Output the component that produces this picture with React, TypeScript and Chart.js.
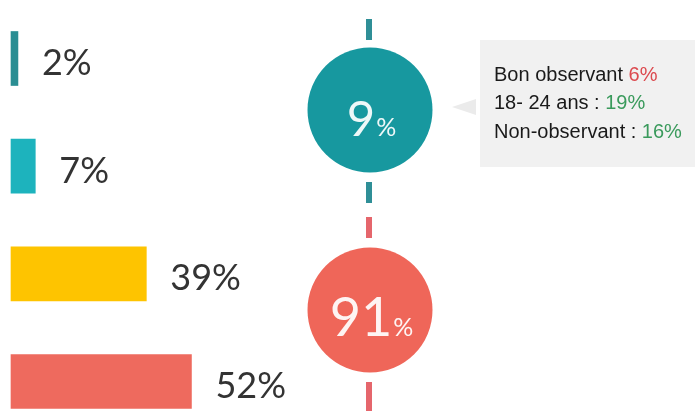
import React, { useEffect, useRef } from "react";
import { Chart, registerables } from "chart.js";

Chart.register(...registerables);

// ---- data ----
const categories = ["Groupe 1", "Groupe 2", "Groupe 3", "Groupe 4"];
const barValues = [2, 7, 39, 52];
const barColors = ["#2a8e93", "#1db3bd", "#fec400", "#ee6a5e"];

const circleValues = [9, 91];
const circleColors = ["#17989f", "#ef6659"];
const dashColors = ["#2f8f97", "#e5666c"];

const noteLabels = ["Bon observant ", "18- 24 ans : ", "Non-observant : "];
const noteValues = ["6%", "19%", "16%"];
const noteValueColors = ["#dc4a4f", "#3a9a5c", "#3a9a5c"];

const decorPlugin = {
  id: "decor",
  beforeDatasetsDraw(chart: any) {
    const ctx = chart.ctx as CanvasRenderingContext2D;
    ctx.save();
    const cx = 369;
    // dashes
    ctx.lineWidth = 6;
    const segs = [
      [0, 19, 40],
      [0, 182, 203],
      [1, 217, 238],
      [1, 382, 411],
    ];
    for (const [c, y1, y2] of segs) {
      ctx.strokeStyle = dashColors[c];
      ctx.beginPath();
      ctx.moveTo(cx, y1);
      ctx.lineTo(cx, y2);
      ctx.stroke();
    }
    // circles
    const centersY = [110, 310];
    const bigSizes = [49, 54];
    circleValues.forEach((v, i) => {
      ctx.fillStyle = circleColors[i];
      ctx.beginPath();
      ctx.arc(370, centersY[i], 62.5, 0, Math.PI * 2);
      ctx.fill();
      const big = String(v);
      ctx.font = `${bigSizes[i]}px Lato, "Open Sans", sans-serif`;
      const wBig = ctx.measureText(big).width;
      ctx.font = `25px Lato, "Open Sans", sans-serif`;
      const wPct = ctx.measureText("%").width;
      const startX = 371 - (wBig + wPct) / 2;
      const baseY = centersY[i] + 26;
      ctx.fillStyle = "rgba(255,255,255,0.93)";
      ctx.textBaseline = "alphabetic";
      ctx.textAlign = "left";
      ctx.font = `${bigSizes[i]}px Lato, "Open Sans", sans-serif`;
      ctx.fillText(big, startX, baseY);
      ctx.font = `25px Lato, "Open Sans", sans-serif`;
      ctx.fillText("%", startX + wBig + 1, baseY);
    });
    // pointer
    ctx.fillStyle = "#ebebeb";
    ctx.beginPath();
    ctx.moveTo(452, 107);
    ctx.lineTo(476, 99);
    ctx.lineTo(476, 115);
    ctx.closePath();
    ctx.fill();
    // box
    ctx.fillStyle = "#f1f1f1";
    ctx.fillRect(480, 40, 215, 127);
    ctx.textBaseline = "middle";
    ctx.font = `20px "Liberation Sans", Arial, sans-serif`;
    const lineY = [75, 103, 132];
    noteLabels.forEach((lab, i) => {
      ctx.fillStyle = "#1a1a1a";
      ctx.fillText(lab, 494, lineY[i]);
      const w = ctx.measureText(lab).width;
      ctx.fillStyle = noteValueColors[i];
      ctx.fillText(noteValues[i], 494 + w, lineY[i]);
    });
    ctx.restore();
  },
  afterDatasetsDraw(chart: any) {
    const ctx = chart.ctx as CanvasRenderingContext2D;
    const meta = chart.getDatasetMeta(0);
    ctx.save();
    ctx.font = `36px Lato, "Open Sans", sans-serif`;
    ctx.fillStyle = "#333333";
    ctx.textBaseline = "middle";
    ctx.textAlign = "left";
    meta.data.forEach((bar: any, i: number) => {
      ctx.fillText(`${barValues[i]}%`, bar.x + 24, bar.y + 5);
    });
    ctx.restore();
  },
};

export default function App() {
  const ref = useRef<HTMLCanvasElement>(null);
  useEffect(() => {
    if (!ref.current) return;
    const chart = new Chart(ref.current, {
      type: "bar",
      data: {
        labels: categories,
        datasets: [
          {
            data: barValues,
            backgroundColor: barColors,
            borderWidth: 0,
            barThickness: 54,
            indexAxis: "y",
            clip: false,
          } as any,
        ],
      },
      options: {
        indexAxis: "y",
        responsive: false,
        animation: false,
        devicePixelRatio: 1,
        layout: { padding: { left: 11, right: 337, top: 58.5, bottom: 29.5 } },
        plugins: {
          legend: { display: false },
          tooltip: { enabled: false },
        },
        scales: {
          y: {
            type: "category",
            offset: false,
            display: false,
            grid: { display: false },
          },
          x: {
            type: "linear",
            min: 0,
            max: 100,
            display: false,
            grid: { display: false },
          },
        },
      },
      plugins: [decorPlugin],
    });
    return () => chart.destroy();
  }, []);
  return (
    <div style={{ position: "fixed", left: 0, top: 0, width: 695, height: 411, background: "#ffffff" }}>
      <canvas ref={ref} width={695} height={411} style={{ display: "block" }} />
    </div>
  );
}
